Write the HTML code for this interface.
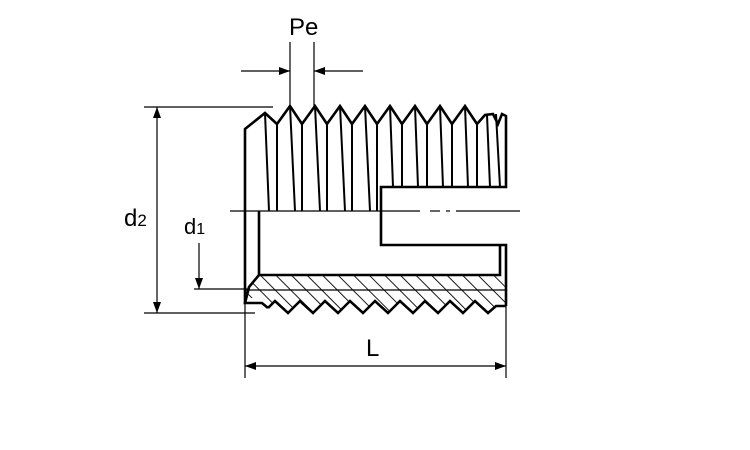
<!DOCTYPE html>
<html><head><style>body{margin:0;background:#fff}svg{display:block}</style></head><body>
<svg width="750" height="450" viewBox="0 0 750 450" xmlns="http://www.w3.org/2000/svg">
<defs>
<pattern id="h" width="11" height="11" patternUnits="userSpaceOnUse" patternTransform="rotate(-45)">
<line x1="0" y1="0" x2="0" y2="11" stroke="#000" stroke-width="1.8"/>
</pattern>
<clipPath id="cb"><path d="M259,275 L500,275 L506,289 L506,303 L496,306 L488,313 L475,301 L463,313 L450,301 L438,313 L425,301 L413,313 L400,301 L388,313 L375,301 L363,313 L350,301 L338,313 L325,301 L313,313 L300,301 L288,313 L275,301 L268,308 L258,298 L249,298 L245,290 Z"/></clipPath>
</defs>
<g stroke="#000" fill="none">
<g stroke-width="1.2">
<line x1="290" y1="42" x2="290" y2="107"/><line x1="314" y1="42" x2="314" y2="107"/>
<line x1="241" y1="71" x2="290" y2="71"/><line x1="314" y1="71" x2="363" y2="71"/>
<line x1="144" y1="107" x2="273" y2="107"/>
<line x1="144" y1="313" x2="255" y2="313"/>
<line x1="157" y1="107" x2="157" y2="313"/>
<line x1="199" y1="243" x2="199" y2="289"/>
<line x1="194" y1="289" x2="250" y2="289"/>
<line x1="245" y1="300" x2="245" y2="378"/><line x1="506" y1="300" x2="506" y2="378"/>
<line x1="245" y1="366" x2="506" y2="366"/>
<line x1="230" y1="211" x2="420" y2="211"/><line x1="430" y1="211" x2="440" y2="211"/><line x1="446" y1="211" x2="450" y2="211"/><line x1="456" y1="211" x2="520" y2="211"/>
</g>
<g fill="#000" stroke="none">
<path d="M290,71 l-11,-4 v8z"/><path d="M314,71 l11,-4 v8z"/>
<path d="M157,107 l-4,11 h8z"/><path d="M157,313 l-4,-11 h8z"/>
<path d="M199,289 l-4,-11 h8z"/>
<path d="M245,366 l11,-4 v8z"/><path d="M506,366 l-11,-4 v8z"/>
</g>
<rect x="240" y="270" width="270" height="50" fill="url(#h)" stroke="none" clip-path="url(#cb)"/>
<g stroke-width="2.6" stroke-linejoin="miter">
<path d="M245,303 L245,129 L265,113 L277,124 L290,106 L302,124 L315,106 L327,124 L340,106 L352,124 L365,106 L377,124 L390,106 L402,124 L415,106 L427,124 L440,106 L452,124 L465,106 L477,124 L485,115 L493,114 L498,124 L502,114 L506,116 L506,187 L381,187 L381,245 L506,245 L506,306"/>
<path d="M259,211 L259,275 L500,275 L500,245"/>
<path d="M259,275 L249,287 L245,303 L262,303 L268,308"/>
<path d="M268,308 L275,301 L288,313 L300,301 L313,313 L325,301 L338,313 L350,301 L363,313 L375,301 L388,313 L400,301 L413,313 L425,301 L438,313 L450,301 L463,313 L475,301 L488,313 L496,306 L506,306"/>
</g>
<line x1="245" y1="290" x2="506" y2="290" stroke-width="1.2"/>
<g stroke-width="2">
<line x1="265" y1="113" x2="269" y2="211"/><line x1="277" y1="124" x2="277" y2="211"/>
<line x1="290" y1="106" x2="295" y2="211"/><line x1="302" y1="124" x2="302" y2="211"/>
<line x1="315" y1="106" x2="320" y2="211"/><line x1="327" y1="124" x2="327" y2="211"/>
<line x1="340" y1="106" x2="345" y2="211"/><line x1="352" y1="124" x2="352" y2="211"/>
<line x1="365" y1="106" x2="370" y2="211"/><line x1="377" y1="124" x2="377" y2="211"/>
<line x1="390" y1="106" x2="393" y2="187"/><line x1="402" y1="124" x2="402" y2="187"/>
<line x1="415" y1="106" x2="418" y2="187"/><line x1="427" y1="124" x2="427" y2="187"/>
<line x1="440" y1="106" x2="443" y2="187"/><line x1="452" y1="124" x2="452" y2="187"/>
<line x1="465" y1="106" x2="468" y2="187"/><line x1="477" y1="124" x2="477" y2="187"/>
<line x1="487" y1="115" x2="490" y2="187"/><line x1="496" y1="114" x2="500" y2="187"/>
</g>
</g>
<g font-family="Liberation Sans, sans-serif" fill="#000">
<text x="289" y="35" font-size="24">Pe</text>
<text x="124" y="226" font-size="24">d<tspan font-size="17">2</tspan></text>
<text x="184" y="234" font-size="22">d<tspan font-size="16">1</tspan></text>
<text x="366" y="356" font-size="24">L</text>
</g>
</svg>
</body></html>
